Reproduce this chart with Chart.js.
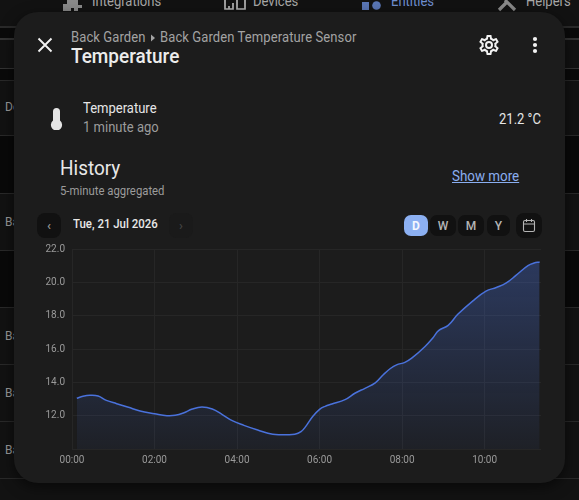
<!DOCTYPE html>
<html><head><meta charset="utf-8">
<script src="https://cdn.jsdelivr.net/npm/chart.js@4"></script>
<style>
html,body{margin:0;padding:0;background:#111;width:579px;height:500px;overflow:hidden;font-family:Roboto,sans-serif}
.a{position:absolute;white-space:nowrap;line-height:1}
.n{transform:scaleX(.93);transform-origin:left center}
.band{position:absolute;left:0;width:579px}
#dlg{position:absolute;left:14px;top:12px;width:551px;height:471px;background:#1c1c1c;border-radius:24px;box-shadow:0 4px 14px rgba(0,0,0,.55)}
.btn{position:absolute;background:#111;border-radius:7px;color:#b5b5b5;font-size:12px;font-weight:500;display:flex;align-items:center;justify-content:center}
svg{position:absolute}
#wrap{position:absolute;left:30px;top:235.5px;width:530px;height:235px}
</style></head><body>
<div class="band" style="top:0;height:26px;background:#121212"></div>
<div class="band" style="top:26px;height:2px;background:#2a2a2a"></div>
<div class="band" style="top:28px;height:10px;background:#0a0a0a"></div>
<div class="band" style="top:38px;height:2px;background:#333"></div>
<div class="band" style="top:40px;height:28px;background:#121212"></div>
<div class="band" style="top:68px;height:1px;background:#333"></div>
<div class="band" style="top:69px;height:11px;background:#0a0a0a"></div>
<div class="band" style="top:80px;height:55px;background:#121212;border-top:1px solid #292929"></div>
<div class="band" style="top:135px;height:58px;background:#090909;border-top:1px solid #292929;box-sizing:border-box"></div>
<div class="band" style="top:193px;height:57px;background:#121212;border-top:1px solid #292929;box-sizing:border-box"></div>
<div class="band" style="top:250px;height:57px;background:#090909;border-top:1px solid #292929;box-sizing:border-box"></div>
<div class="band" style="top:307px;height:57px;background:#121212;border-top:1px solid #292929;box-sizing:border-box"></div>
<div class="band" style="top:364px;height:57px;background:#121212;border-top:1px solid #292929;box-sizing:border-box"></div>
<div class="band" style="top:421px;height:57px;background:#121212;border-top:1px solid #292929;box-sizing:border-box"></div>
<div class="band" style="top:478px;height:22px;background:#121212;border-top:1px solid #292929;box-sizing:border-box"></div>

<div class="a" style="left:5px;top:101px;font-size:12px;color:#9a9a9a">De</div>
<div class="a" style="left:5px;top:216px;font-size:12px;color:#9a9a9a">Ba</div>
<div class="a" style="left:5px;top:330px;font-size:12px;color:#9a9a9a">Ba</div>
<div class="a" style="left:5px;top:387px;font-size:12px;color:#9a9a9a">Ba</div>
<div class="a" style="left:5px;top:444px;font-size:12px;color:#9a9a9a">Ba</div>

<div class="a n" style="left:92px;top:-6px;font-size:14px;color:#a8a8a8">Integrations</div>
<div class="a n" style="left:253px;top:-6px;font-size:14px;color:#a8a8a8">Devices</div>
<div class="a n" style="left:391px;top:-6px;font-size:14px;color:#6f8fd0">Entities</div>
<div class="a n" style="left:526px;top:-6px;font-size:14px;color:#a8a8a8">Helpers</div>
<svg style="left:62px;top:0" width="21" height="12" viewBox="0 0 21 12"><path d="M1 11V4h4V0h11v5h4v3h-4v3h-4V8H9v3z" fill="#8a8a8a"/></svg>
<svg style="left:224px;top:0" width="22" height="10" viewBox="0 0 22 10"><path d="M1 0v9h8V3M13 0v9h8V0M5 9V6" fill="none" stroke="#b5b5b5" stroke-width="1.7"/></svg>
<svg style="left:362px;top:0" width="20" height="11" viewBox="0 0 20 11"><rect x="0" y="2" width="7" height="8" fill="#5a76b5"/><circle cx="14.5" cy="5.5" r="4.3" fill="#5a76b5"/></svg>
<svg style="left:497px;top:0" width="20" height="12" viewBox="0 0 20 12"><path d="M2 10L9 3M18 10L8 0" stroke="#8a8a8a" stroke-width="3.2" fill="none"/></svg>

<div id="dlg"></div>
<svg style="left:35px;top:35px" width="20" height="20" viewBox="0 0 20 20"><path d="M3.5 3.5L16.5 16.5M16.5 3.5L3.5 16.5" stroke="#f2f2f2" stroke-width="1.9" fill="none"/></svg>
<div class="a n" style="left:71px;top:30px;font-size:14px;color:#a3a3a3;letter-spacing:.1px">Back Garden</div>
<svg style="left:149px;top:33px" width="8" height="10" viewBox="0 0 8 10"><path d="M2 1.5L6 5L2 8.5z" fill="#a3a3a3"/></svg>
<div class="a n" style="left:160px;top:30px;font-size:14px;color:#a3a3a3;letter-spacing:.1px">Back Garden Temperature Sensor</div>
<div class="a n" style="left:71px;top:46px;font-size:20.4px;font-weight:500;color:#ececec">Temperature</div>
<svg style="left:477px;top:33px" width="24" height="24" viewBox="0 0 24 24"><path d="M12 8a4 4 0 1 0 0 8a4 4 0 0 0 0-8zm0 2a2 2 0 1 1 0 4a2 2 0 0 1 0-4zM10 22c-.25 0-.46-.18-.5-.42l-.37-2.65c-.63-.25-1.17-.59-1.69-.99l-2.49 1.01c-.22.08-.49 0-.61-.22l-2-3.46a.49.49 0 0 1 .12-.64l2.11-1.66L4.5 12l.07-1-2.11-1.63a.49.49 0 0 1-.12-.64l2-3.46c.12-.22.39-.31.61-.22l2.49 1c.52-.39 1.06-.73 1.69-.98l.37-2.65A.506.506 0 0 1 10 2h4c.25 0 .46.18.5.42l.37 2.65c.63.25 1.17.59 1.69.98l2.49-1c.22-.09.49 0 .61.22l2 3.46c.13.22.07.49-.12.64L19.43 11l.07 1l-.07 1l2.11 1.67c.19.15.25.42.12.64l-2 3.46c-.12.22-.39.31-.61.22l-2.49-1c-.52.39-1.06.73-1.69.98l-.37 2.65c-.04.24-.25.42-.5.42h-4zm1.25-18l-.37 2.61c-1.2.25-2.26.89-3.03 1.78L5.44 7.35l-.75 1.3L6.8 10.2a5.55 5.55 0 0 0 0 3.6l-2.12 1.56l.75 1.3l2.43-1.04c.77.88 1.82 1.52 3.01 1.76l.37 2.62h1.52l.37-2.61c1.19-.25 2.24-.89 3.01-1.77l2.43 1.04l.75-1.3l-2.12-1.55c.4-1.17.4-2.44 0-3.61l2.11-1.55l-.75-1.3l-2.41 1.04a5.42 5.42 0 0 0-3.03-1.77L12.75 4h-1.5z" fill="#f2f2f2"/></svg>
<svg style="left:531px;top:35px" width="8" height="20" viewBox="0 0 8 20"><circle cx="4" cy="4" r="2.1" fill="#f2f2f2"/><circle cx="4" cy="10" r="2.1" fill="#f2f2f2"/><circle cx="4" cy="16" r="2.1" fill="#f2f2f2"/></svg>

<svg style="left:50px;top:108px" width="13" height="22" viewBox="0 0 13 22"><path d="M3 3.5a3.5 3.5 0 0 1 7 0v9a5.6 5.6 0 1 1-7 0z" fill="#e4e4e4"/></svg>
<div class="a n" style="left:83px;top:101px;font-size:14px;color:#e6e6e6">Temperature</div>
<div class="a n" style="left:83px;top:120px;font-size:14px;color:#9b9b9b">1 minute ago</div>
<div class="a n" style="left:499px;top:112px;font-size:14px;color:#e6e6e6">21.2 °C</div>
<div class="a n" style="left:60px;top:158px;font-size:20.4px;color:#e8e8e8">History</div>
<div class="a n" style="left:60px;top:185px;font-size:12.2px;color:#9b9b9b">5-minute aggregated</div>
<div class="a n" style="left:452px;top:170px;font-size:14.4px;color:#8aaef0;text-decoration:underline">Show more</div>

<div class="btn" style="left:37px;top:213px;width:24px;height:25px;border-radius:8px;color:#999;font-size:13px">‹</div>
<div class="a n" style="left:73px;top:218px;font-size:12.3px;font-weight:500;color:#e8e8e8">Tue, 21 Jul 2026</div>
<div class="btn" style="left:169px;top:213px;width:24px;height:25px;border-radius:8px;background:#1a1a1a;color:#444;font-size:13px">›</div>
<div class="btn" style="left:404px;top:215px;width:24px;height:21px;background:#8cb0f2;color:#f4f7ff;font-weight:700">D</div>
<div class="btn" style="left:430px;top:215px;width:26px;height:21px">W</div>
<div class="btn" style="left:458px;top:215px;width:26px;height:21px">M</div>
<div class="btn" style="left:487px;top:215px;width:23px;height:21px">Y</div>
<div class="btn" style="left:516px;top:213px;width:26px;height:25px;border-radius:8px"></div>
<svg style="left:522px;top:218px" width="14" height="15" viewBox="0 0 14 15"><rect x="1.5" y="2.5" width="11" height="11" rx="1.5" fill="none" stroke="#b5b5b5" stroke-width="1.1"/><path d="M1.5 6h11M4.5 1v3M9.5 1v3" stroke="#b5b5b5" stroke-width="1.1" fill="none"/></svg>

<div id="wrap"><canvas id="c"></canvas></div>
<script>
const minutes = [7,16,26,38,50,65,82,99,120,138,150,162,175,189,204,218,233,250,270,292,309,324,333,340,350,360,368,378,397,412,426,441,453,463,472,484,494,513,525,533,547,561,583,602,617,631,646,663,672,680];
const temperatures = [13.04,13.16,13.22,13.18,12.92,12.72,12.5,12.28,12.12,12.0,12.02,12.16,12.4,12.52,12.4,12.08,11.7,11.42,11.14,10.88,10.86,10.88,11.04,11.36,11.95,12.38,12.56,12.7,12.96,13.36,13.64,13.97,14.47,14.83,15.05,15.2,15.45,16.14,16.68,17.1,17.42,18.08,18.89,19.47,19.69,19.95,20.43,21.0,21.16,21.22];
const xTicks = [0,120,240,360,480,600];
const yMin = 10, yMax = 22, xMax = 682;
const fmt = m => String(Math.floor(m/60)).padStart(2,'0')+':'+String(m%60).padStart(2,'0');
Chart.defaults.font.family = 'Roboto, sans-serif';
new Chart(document.getElementById('c'),{
  type:'line',
  data:{datasets:[{
    data:minutes.map((m,i)=>({x:m,y:temperatures[i]})),
    borderColor:'#4a72dc',borderWidth:1.5,pointRadius:0,
    tension:0.4,
    fill:'start',
    backgroundColor(ctx){
      const a=ctx.chart.chartArea; if(!a) return 'transparent';
      const g=ctx.chart.ctx.createLinearGradient(0,a.top,0,a.bottom);
      g.addColorStop(0,'rgba(74,114,220,0.36)');
      g.addColorStop(1,'rgba(74,114,220,0.06)');
      return g;
    }
  }]},
  options:{
    responsive:true,maintainAspectRatio:false,animation:false,
    layout:{padding:{left:0,right:19,top:2,bottom:0}},
    plugins:{legend:{display:false},tooltip:{enabled:false}},
    scales:{
      x:{type:'linear',min:0,max:xMax,
        afterBuildTicks(s){s.ticks=xTicks.map(v=>({value:v}));},
        ticks:{callback:v=>fmt(v),color:'#9a9a9a',font:{size:10},maxRotation:0,autoSkip:false,padding:5},
        grid:{color:'#262626',lineWidth:1,drawTicks:false,tickLength:6},border:{display:false}},
      y:{min:yMin,max:yMax,
        ticks:{stepSize:2,callback:v=>v===yMin?'':v.toFixed(1),color:'#9a9a9a',font:{size:10},padding:7},
        afterFit(s){s.width=42;},
        grid:{color:'#262626',lineWidth:1,drawTicks:false},border:{display:false}}
    }
  }
});
</script>
</body></html>
